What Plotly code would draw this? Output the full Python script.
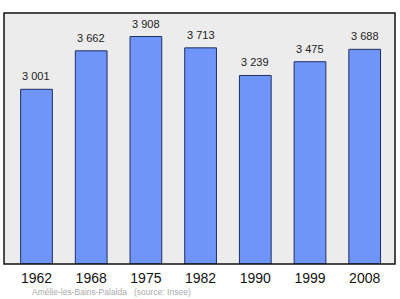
import plotly.graph_objects as go

years = ["1962", "1968", "1975", "1982", "1990", "1999", "2008"]
population = [3001, 3662, 3908, 3713, 3239, 3475, 3688]
value_labels = ["3 001", "3 662", "3 908", "3 713", "3 239", "3 475", "3 688"]
source_text = "Amélie-les-Bains-Palalda  (source: Insee)"

fig = go.Figure()
fig.add_trace(go.Bar(
    x=years, y=population, width=0.58,
    marker=dict(color="#6f95fb", line=dict(color="#1f2f5f", width=1)),
    hoverinfo="skip",
))

for i, (val, lab) in enumerate(zip(population, value_labels)):
    fig.add_annotation(x=i, y=val, text=lab, showarrow=False, yshift=13,
                       yanchor="middle",
                       font=dict(family="Liberation Sans, Arial, sans-serif", size=11, color="#222"))

fig.add_annotation(xref="paper", yref="paper", x=0.0665, y=-0.11, xanchor="left", yanchor="middle",
                   text=source_text.replace("  ", "&nbsp;&nbsp;&nbsp;"), showarrow=False,
                   font=dict(family="Liberation Sans, Arial, sans-serif", size=8.5, color="#aaaaaa"))

fig.add_shape(type="rect", xref="paper", yref="paper", x0=0, y0=0, x1=1, y1=1,
              line=dict(color="#111", width=1.5), fillcolor="rgba(0,0,0,0)", layer="above")

fig.update_layout(
    width=400, height=299,
    margin=dict(l=4, r=5, t=13, b=35),
    paper_bgcolor="white", plot_bgcolor="#ececec",
    showlegend=False,
    xaxis=dict(type="category", range=[-0.594, 6.554], showgrid=False, zeroline=False,
               showline=False, ticks="", ticklabelstandoff=4,
               tickfont=dict(family="Liberation Sans, Arial, sans-serif", size=14, color="#111")),
    yaxis=dict(range=[0, 4312], showgrid=False, zeroline=False, showticklabels=False,
               showline=False, ticks=""),
)

fig.write_html("out.html")
